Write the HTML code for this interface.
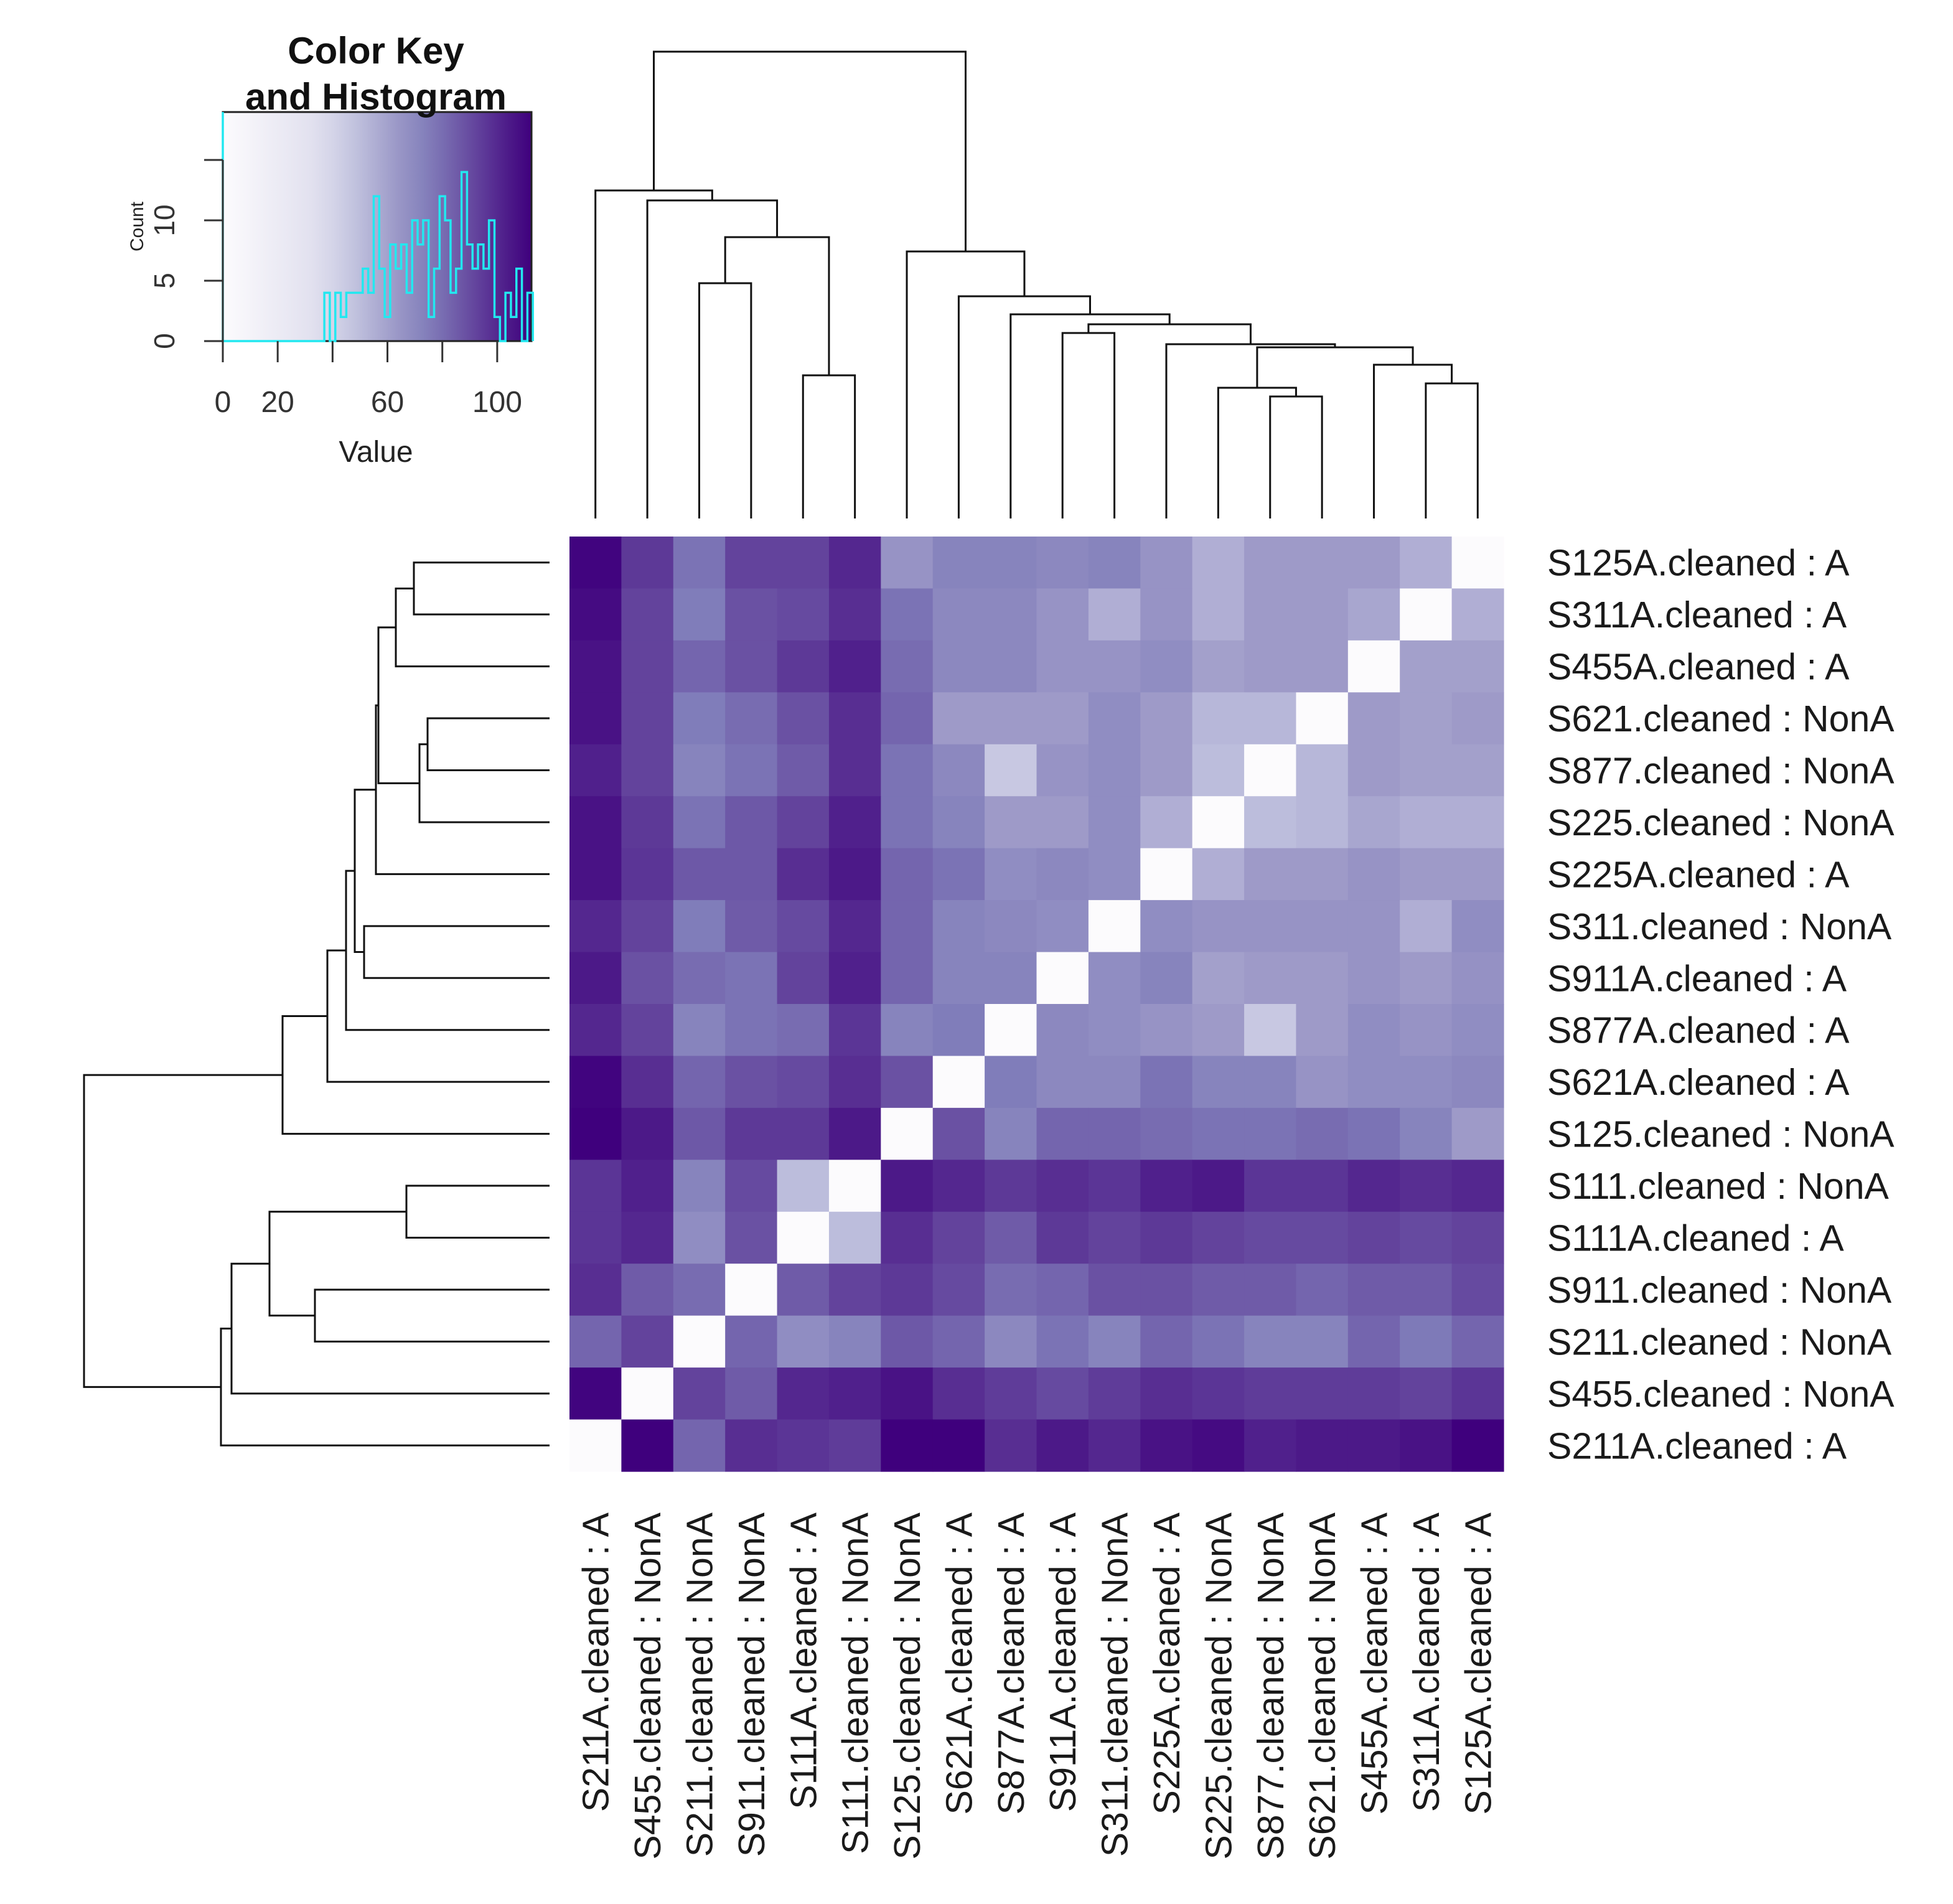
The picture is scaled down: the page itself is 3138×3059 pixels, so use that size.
<!DOCTYPE html>
<html><head><meta charset="utf-8"><style>
html,body{margin:0;padding:0;background:#fff;}
svg{display:block;font-family:"Liberation Sans",sans-serif;}
</style></head><body>
<svg id="chart" width="3138" height="3059" viewBox="0 0 3138 3059" xmlns="http://www.w3.org/2000/svg">
<rect width="3138" height="3059" fill="#fff"/>
<g id="key"></g>
<g id="topdend"></g>
<g id="leftdend"></g>
<g id="cells"></g>
<g id="rlabels"></g>
<g id="clabels"></g>
</svg>
<script>
const rowLabels = ["S125A.cleaned : A","S311A.cleaned : A","S455A.cleaned : A","S621.cleaned : NonA","S877.cleaned : NonA","S225.cleaned : NonA","S225A.cleaned : A","S311.cleaned : NonA","S911A.cleaned : A","S877A.cleaned : A","S621A.cleaned : A","S125.cleaned : NonA","S111.cleaned : NonA","S111A.cleaned : A","S911.cleaned : NonA","S211.cleaned : NonA","S455.cleaned : NonA","S211A.cleaned : A"];
const colLabels = ["S211A.cleaned : A","S455.cleaned : NonA","S211.cleaned : NonA","S911.cleaned : NonA","S111A.cleaned : A","S111.cleaned : NonA","S125.cleaned : NonA","S621A.cleaned : A","S877A.cleaned : A","S911A.cleaned : A","S311.cleaned : NonA","S225A.cleaned : A","S225.cleaned : NonA","S877.cleaned : NonA","S621.cleaned : NonA","S455A.cleaned : A","S311A.cleaned : A","S125A.cleaned : A"];
const matrix = [
[110,95,78,92,92,100,65,72,72,70,72,65,55,62,62,62,55,0],
[108,92,75,88,90,98,78,70,70,65,55,65,55,62,62,58,0,55],
[106,92,82,88,95,102,80,70,70,65,65,68,60,62,62,0,60,60],
[106,92,75,80,88,98,82,62,62,62,68,62,52,52,0,62,60,62],
[102,92,72,78,85,98,78,70,45,65,68,62,50,0,52,62,60,60],
[106,95,78,86,92,102,78,72,62,62,68,55,0,50,52,58,55,55],
[106,96,86,86,98,104,82,78,68,70,68,0,55,62,62,65,62,62],
[100,92,75,85,90,100,82,72,70,68,0,68,65,65,65,65,55,68],
[104,88,80,78,92,102,82,72,72,0,68,72,60,62,62,65,62,66],
[100,92,72,78,80,96,72,75,0,70,68,65,62,45,62,68,65,68],
[110,98,82,88,90,98,88,0,75,70,70,78,72,72,65,68,68,70],
[111,104,86,95,95,104,0,88,72,82,82,80,78,78,80,78,72,62],
[96,102,72,90,50,0,104,100,95,98,96,102,104,96,96,100,98,100],
[96,100,68,88,0,50,98,92,85,95,92,95,92,90,90,92,90,92],
[98,85,80,0,85,92,95,90,80,82,88,88,85,85,82,85,85,90],
[82,92,0,82,68,72,86,82,70,78,72,82,78,72,72,82,76,82],
[110,0,92,85,100,102,106,98,94,90,94,98,96,94,94,94,92,96],
[0,111,82,98,96,94,111,111,98,104,100,106,108,102,104,104,106,111]];
const histStarts = [37,39,41,43,45,47,49,51,53,55,57,59,61,63,65,67,69,71,73,75,77,79,81,83,85,87,89,91,93,95,97,99,101,103,105,107,109,111];
const histCounts = [4,0,4,2,4,4,4,6,4,12,6,2,8,6,8,4,10,8,10,2,6,12,10,4,6,14,8,6,8,6,10,2,0,4,2,6,0,4];
const keyTicks = [0,20,40,60,80,100];
const keyTickLabels = ["0","20","","60","","100"];
const countTicks = [0,5,10,15];
const countTickLabels = ["0","5","10",""];
const colMerges = [[4,5,603],[2,3,455],[19,18,381],[1,20,322],[0,21,306],[9,10,535],[13,14,637],[12,24,623],[16,17,616],[15,26,586],[25,27,558],[11,28,553],[23,29,521],[8,30,505],[7,31,476],[6,32,404],[22,33,83]];
const rowMerges = [[0,1,665],[18,2,636],[3,4,687],[20,5,674],[19,21,608],[22,6,604],[7,8,585],[23,24,570],[25,9,556],[26,10,526],[27,11,454],[12,13,653],[14,15,506],[29,30,433],[31,16,372],[32,17,355],[28,33,135]];

const NS="http://www.w3.org/2000/svg";
function mk(tag,attrs,parent){const e=document.createElementNS(NS,tag);for(const k in attrs)e.setAttribute(k,attrs[k]);parent.appendChild(e);return e;}
const stops=[[0,[252,251,253]],[35,[224,223,238]],[50,[188,189,220]],[62,[158,154,200]],[75,[128,125,186]],[88,[106,81,163]],[100,[84,39,143]],[111,[63,0,125]]];
function color(v){v=Math.max(0,Math.min(111,v));for(let i=0;i<stops.length-1;i++){const a=stops[i],b=stops[i+1];if(v<=b[0]){const t=(v-a[0])/(b[0]-a[0]);const c=a[1].map((x,j)=>Math.round(x+(b[1][j]-x)*t));return `rgb(${c[0]},${c[1]},${c[2]})`;}}return "rgb(63,0,125)";}
const HX0=915,HX1=2416,HY0=862,HY1=2364;
const nC=colLabels.length,nR=rowLabels.length;
const cw=(HX1-HX0)/nC,ch=(HY1-HY0)/nR;
const xC=i=>HX0+cw*(i+0.5), yR=i=>HY0+ch*(i+0.5);
const cells=document.getElementById('cells');
matrix.forEach((row,r)=>row.forEach((v,c)=>{
  const e=mk('rect',{x:HX0+c*cw,y:HY0+r*ch,width:cw+0.6,height:ch+0.6,fill:color(v)},cells);
  
  
}));
const rl=document.getElementById('rlabels');
rowLabels.forEach((t,i)=>{const e=mk('text',{x:2486,y:yR(i)+21,'font-size':59,fill:'#1a1a1a'},rl);e.textContent=t;
  
  });
const cl=document.getElementById('clabels');
colLabels.forEach((t,i)=>{const x=xC(i)+21,y=2430;const e=mk('text',{x:x,y:y,'font-size':59,fill:'#1a1a1a','text-anchor':'end',transform:`rotate(-90 ${x} ${y})`},cl);e.textContent=t;
  
  });
function dend(merges,n,leafPos,leafEnd,g,vertical){
  const pos=[],h=[];for(let i=0;i<n;i++){pos.push(leafPos(i));h.push(leafEnd);}
  merges.forEach(m=>{const [a,b,ht]=m;const pa=pos[a],pb=pos[b];
    let d;
    if(vertical) d=`M${pa},${h[a]}V${ht}H${pb}V${h[b]}`;
    else d=`M${h[a]},${pa}H${ht}V${pb}H${h[b]}`;
    const e=mk('path',{d:d,fill:'none',stroke:'#111','stroke-width':3},g);
    
    
    pos.push((pa+pb)/2);h.push(ht);});
}
dend(colMerges,nC,xC,833,document.getElementById('topdend'),true);
dend(rowMerges,nR,yR,883,document.getElementById('leftdend'),false);
const key=document.getElementById('key');
const KX0=358,KX1=854,KY0=180,KY1=548;
const kx=v=>KX0+v*(KX1-KX0)/112.5, ky=c=>KY1-c*19.4;
const defs=mk('defs',{},key);const lg=mk('linearGradient',{id:'kg',x1:0,x2:1,y1:0,y2:0},defs);
for(let v=0;v<=112;v+=8){mk('stop',{offset:v/112,'stop-color':color(v)},lg);}
const kr=mk('rect',{x:KX0,y:KY0,width:KX1-KX0,height:KY1-KY0,fill:'url(#kg)',stroke:'#222','stroke-width':3},key);


let hd=`M${kx(0)},${KY0}V${ky(0)}H${kx(histStarts[0])}`;
histStarts.forEach((s,i)=>{hd+=`V${ky(histCounts[i])}H${kx(s+2)}`;});
hd+=`V${ky(0)}`;
const hp=mk('path',{d:hd,fill:'none',stroke:'#22e8f0','stroke-width':3.5},key);


keyTicks.forEach((t,i)=>{mk('line',{x1:kx(t),x2:kx(t),y1:KY1,y2:KY1+34,stroke:'#333','stroke-width':3},key);
  if(keyTickLabels[i]){const e=mk('text',{x:kx(t),y:662,'font-size':48,'text-anchor':'middle',fill:'#333'},key);e.textContent=keyTickLabels[i];
  
  }});
mk('line',{x1:KX0,x2:KX0,y1:ky(0),y2:ky(15),stroke:'#333','stroke-width':3},key);
countTicks.forEach((t,i)=>{mk('line',{x1:KX0-30,x2:KX0,y1:ky(t),y2:ky(t),stroke:'#333','stroke-width':3},key);
  if(countTickLabels[i]){const x=280,y=ky(t);const e=mk('text',{x:x,y:y,'font-size':46,'text-anchor':'middle',fill:'#333',transform:`rotate(-90 ${x} ${y})`},key);e.textContent=countTickLabels[i];
  
  }});
function txt(s,attrs,name){const e=mk('text',attrs,key);e.textContent=s;return e;}
txt('Color Key',{x:604,y:102,'font-size':60,'font-weight':'bold','text-anchor':'middle',fill:'#111'},'key-title-line1');
txt('and Histogram',{x:604,y:176,'font-size':60,'font-weight':'bold','text-anchor':'middle',fill:'#111'},'key-title-line2');
txt('Value',{x:604,y:742,'font-size':48,'text-anchor':'middle',fill:'#222'},'key-x-axis-title');
txt('Count',{x:230,y:364,'font-size':30,'text-anchor':'middle',fill:'#222',transform:'rotate(-90 230 364)'},'key-y-axis-title');
</script>
</body></html>
